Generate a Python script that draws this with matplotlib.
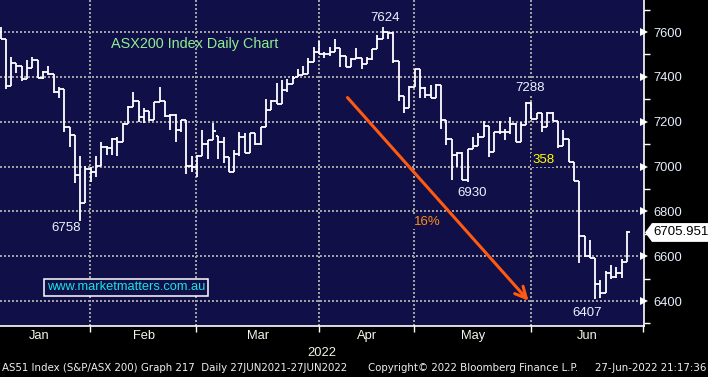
import matplotlib.pyplot as plt
import matplotlib.transforms as mtransforms
from matplotlib import font_manager
from matplotlib.patches import Polygon

# daily OHLC bars, ASX200, Jan - Jun 2022
opens = [7600, 7569, 7359, 7460, 7448, 7390, 7439, 7474, 7396, 7422,
         7413, 7334, 7348, 7175, 7140, 6962, 6838, 6989, 6977, 7004,
         7088, 7081, 7123, 7111, 7188, 7267, 7293, 7219, 7249, 7207,
         7289, 7293, 7225, 7230, 7163, 7207, 7004, 6999, 7047, 7100,
         7118, 7136, 7111, 7044, 6977, 7054, 7133, 7062, 7148, 7099,
         7178, 7252, 7292, 7278, 7341, 7370, 7401, 7408, 7411, 7465,
         7512, 7502, 7500, 7512, 7527, 7494, 7443, 7478, 7483, 7457,
         7478, 7523, 7569, 7599, 7594, 7471, 7315, 7260, 7357, 7434,
         7349, 7317, 7307, 7366, 7207, 7123, 7051, 7060, 6942, 7077,
         7091, 7130, 7182, 7066, 7155, 7153, 7153, 7190, 7111, 7185,
         7285, 7211, 7237, 7178, 7237, 7204, 7093, 7121, 7019, 6935,
         6690, 6601, 6590, 6476, 6434, 6524, 6508, 6526, 6575]
highs = [7622, 7569, 7487, 7462, 7448, 7475, 7488, 7475, 7426, 7448,
         7413, 7355, 7348, 7175, 7140, 7047, 7004, 6999, 7047, 7108,
         7093, 7126, 7130, 7193, 7270, 7333, 7293, 7261, 7249, 7289,
         7356, 7293, 7234, 7234, 7207, 7207, 7047, 7051, 7163, 7118,
         7195, 7136, 7133, 7044, 7074, 7155, 7148, 7151, 7151, 7178,
         7300, 7297, 7374, 7386, 7390, 7404, 7433, 7448, 7483, 7534,
         7560, 7512, 7534, 7571, 7527, 7494, 7483, 7527, 7483, 7490,
         7523, 7587, 7624, 7601, 7600, 7471, 7315, 7359, 7435, 7434,
         7357, 7364, 7368, 7366, 7207, 7123, 7065, 7065, 7077, 7130,
         7151, 7203, 7182, 7155, 7203, 7167, 7219, 7193, 7200, 7288,
         7286, 7237, 7237, 7244, 7244, 7204, 7163, 7121, 7019, 6935,
         6690, 6672, 6590, 6494, 6535, 6561, 6550, 6586, 6714]
lows = [7569, 7346, 7359, 7417, 7381, 7390, 7439, 7395, 7390, 7408,
        7329, 7306, 7155, 7088, 6926, 6758, 6838, 6932, 6955, 7004,
        7051, 7051, 7047, 7111, 7188, 7267, 7200, 7194, 7204, 7207,
        7289, 7222, 7163, 7111, 7155, 6966, 6977, 6955, 7047, 7034,
        7118, 7034, 7016, 6977, 6977, 7048, 7059, 7062, 7096, 7096,
        7178, 7252, 7278, 7278, 7334, 7367, 7401, 7408, 7411, 7465,
        7500, 7483, 7494, 7512, 7443, 7443, 7443, 7478, 7435, 7457,
        7475, 7523, 7569, 7567, 7460, 7294, 7237, 7260, 7357, 7308,
        7304, 7304, 7304, 7167, 7096, 6940, 6996, 6938, 6930, 7077,
        7091, 7130, 7041, 7066, 7145, 7118, 7145, 7111, 7111, 7185,
        7211, 7211, 7155, 7178, 7204, 7084, 7093, 7019, 6935, 6571,
        6595, 6590, 6407, 6412, 6434, 6497, 6504, 6504, 6575]
closes = [7569, 7359, 7460, 7448, 7390, 7439, 7474, 7396, 7422, 7413,
          7334, 7348, 7175, 7140, 6962, 6838, 6989, 6977, 7004, 7088,
          7081, 7123, 7111, 7188, 7267, 7293, 7219, 7249, 7207, 7289,
          7293, 7225, 7230, 7163, 7207, 7004, 6999, 7047, 7100, 7118,
          7158, 7111, 7044, 6977, 7054, 7133, 7062, 7148, 7099, 7178,
          7252, 7292, 7278, 7341, 7370, 7397, 7408, 7411, 7465, 7512,
          7502, 7500, 7512, 7527, 7494, 7443, 7478, 7483, 7457, 7478,
          7523, 7569, 7599, 7594, 7471, 7315, 7260, 7357, 7434, 7349,
          7317, 7307, 7366, 7207, 7123, 7051, 7060, 6942, 7077, 7091,
          7130, 7182, 7066, 7155, 7153, 7153, 7190, 7111, 7185, 7285,
          7211, 7237, 7178, 7237, 7204, 7093, 7121, 7019, 6935, 6690,
          6601, 6590, 6476, 6434, 6524, 6508, 6526, 6575, 6705.951]

months = ["Jan", "Feb", "Mar", "Apr", "May", "Jun"]
month_start = [17, 37, 60, 78, 100]          # bar index of first trading day
month_label_x = [7.3, 27, 48.5, 69, 89, 110.5]
y_grid = [6400, 6600, 6800, 7000, 7200, 7400, 7600]
y_minor = [6300, 6500, 6700, 6900, 7100, 7300, 7500, 7700]

# annotations: (text, x bar index, price, colour)
notes = [("7624", 72.5, 7662, "#eef2ff"),
         ("6758", 12.4, 6726, "#eef2ff"),
         ("6930", 88.9, 6882, "#eef2ff"),
         ("7288", 99.8, 7350, "#eef2ff"),
         ("6407", 110.5, 6346, "#eef2ff"),
         ("358", 102.3, 7029, "#ffff00"),
         ("16%", 80.4, 6752, "#ff8c1a")]
arrow_start = (65, 7317)
arrow_end = (99.8, 6392)
last_price = 6705.951

SANS = ["Liberation Sans", "DejaVu Sans"]

# narrow face for the Bloomberg footer, if one is installed
faces = {(f.name, f.stretch) for f in font_manager.fontManager.ttflist}
if any(n == "Liberation Sans Narrow" for n, _ in faces):
    foot_font = dict(family=["Liberation Sans Narrow"], fontsize=9.6)
elif ("DejaVu Sans", "condensed") in faces:
    foot_font = dict(family=["DejaVu Sans"], fontstretch="condensed", fontsize=8.2)
else:
    foot_font = dict(family=SANS, fontsize=7.9)

navy = "#100f48"
fig = plt.figure(figsize=(7.08, 3.77), dpi=100, facecolor="black")
ax = fig.add_axes([0.0, 1 - 325.5 / 377, 644 / 708, 325.5 / 377])
ax.set_facecolor(navy)
ax.set_xlim(-0.1, 121.2)
ax.set_ylim(6291, 7743)

x = list(range(len(closes)))
ax.vlines(x, lows, highs, color="white", lw=1.3, zorder=3)
ax.hlines(opens, [i - 0.5 for i in x], x, color="white", lw=1.3, zorder=3)
ax.hlines(closes, x, [i + 0.5 for i in x], color="white", lw=1.3, zorder=3)

# dotted grid
for y in y_grid:
    ax.axhline(y, color="#a0a0a0", lw=1.4, ls=(0, (1, 1.1)), zorder=1,
               antialiased=False)
for m in month_start:
    ax.axvline(m - 0.1, color="#a0a0a0", lw=1.4, ls=(0, (1, 1.1)), zorder=1,
               antialiased=False)

for s in ["top", "left"]:
    ax.spines[s].set_visible(False)
for s in ["right", "bottom"]:
    ax.spines[s].set_color("white")
    ax.spines[s].set_linewidth(1.2)

# right axis
ax.yaxis.tick_right()
ax.set_yticks(y_grid)
ax.set_yticklabels([str(v) for v in y_grid])
ax.set_yticks(y_minor, minor=True)
ax.tick_params(axis="y", which="major", length=0, pad=7, labelcolor="#e8eeff",
               labelsize=9.3)
ax.tick_params(axis="y", which="minor", length=4, width=1, color="white")
for lbl in ax.get_yticklabels():
    lbl.set_family(SANS)
trans_y = mtransforms.blended_transform_factory(ax.transAxes, ax.transData)
ax.plot([1.0] * len(y_grid), y_grid, ls="none", marker=">", ms=6,
        color="white", transform=trans_y, clip_on=False, zorder=5,
        markeredgewidth=0)

# bottom axis: month ticks and labels
ax.set_xticks([m - 0.1 for m in month_start] + [121.1])
ax.set_xticklabels([])
ax.tick_params(axis="x", which="major", length=4, width=1, color="white",
               direction="out")
ax.set_xticks(month_label_x, minor=True)
ax.set_xticklabels(months, minor=True)
ax.tick_params(axis="x", which="minor", length=0, pad=3, labelcolor="#f4f4e8",
               labelsize=9.3)
for lbl in ax.get_xticklabels(minor=True):
    lbl.set_family(SANS)

# chart annotations (navy backing hides the dotted grid behind them)
for txt, xi, yi, col in notes:
    ax.text(xi, yi, txt, color=col, fontsize=9.5, ha="center", va="center",
            family=SANS, zorder=2,
            bbox=dict(boxstyle="square,pad=0.1", fc=navy, ec="none"))
ax.text(20.9, 7546, "ASX200 Index Daily Chart", color="#90ee90", fontsize=10.4,
        ha="left", va="center", family=SANS)
ax.text(23.6, 6462, "www.marketmatters.com.au", color="#19e3e3", fontsize=9.3,
        ha="center", va="center", family=SANS,
        bbox=dict(boxstyle="square,pad=0.2", fc=navy, ec="white", lw=1.1))
ax.annotate("", xy=arrow_end, xytext=arrow_start, zorder=4,
            arrowprops=dict(arrowstyle="->,head_length=0.8,head_width=0.4",
                            color="#ff5a10", lw=2.2))

# last price flag
fx = mtransforms.blended_transform_factory(fig.transFigure, ax.transData)
flag = Polygon([(645 / 708, last_price), (652 / 708, last_price + 42),
                (1.0, last_price + 42), (1.0, last_price - 42),
                (652 / 708, last_price - 42)], closed=True, fc="white",
               ec="none", transform=fx, clip_on=False)
fig.patches.append(flag)
fig.text(653 / 708, last_price, f"{last_price:.3f}", color="black",
         fontsize=9.5, va="center", ha="left", family=SANS, transform=fx)

# footer
fig.text(322 / 708, 1 - 353 / 377, "2022", color="#f4f4e8", fontsize=9.3,
         ha="center", va="center", family=SANS)
fy = 1 - 368 / 377
fig.text(2 / 708, fy, "AS51 Index (S&P/ASX 200) Graph 217  Daily 27JUN2021-27JUN2022",
         ha="left", va="center", color="#f0f0f0", **foot_font)
fig.text(368 / 708, fy, "Copyright\u00a9 2022 Bloomberg Finance L.P.",
         ha="left", va="center", color="#f0f0f0", **foot_font)
fig.text(706 / 708, fy, "27-Jun-2022 21:17:36",
         ha="right", va="center", color="#f0f0f0", **foot_font)

plt.savefig("out.png", dpi=100, facecolor="black")
